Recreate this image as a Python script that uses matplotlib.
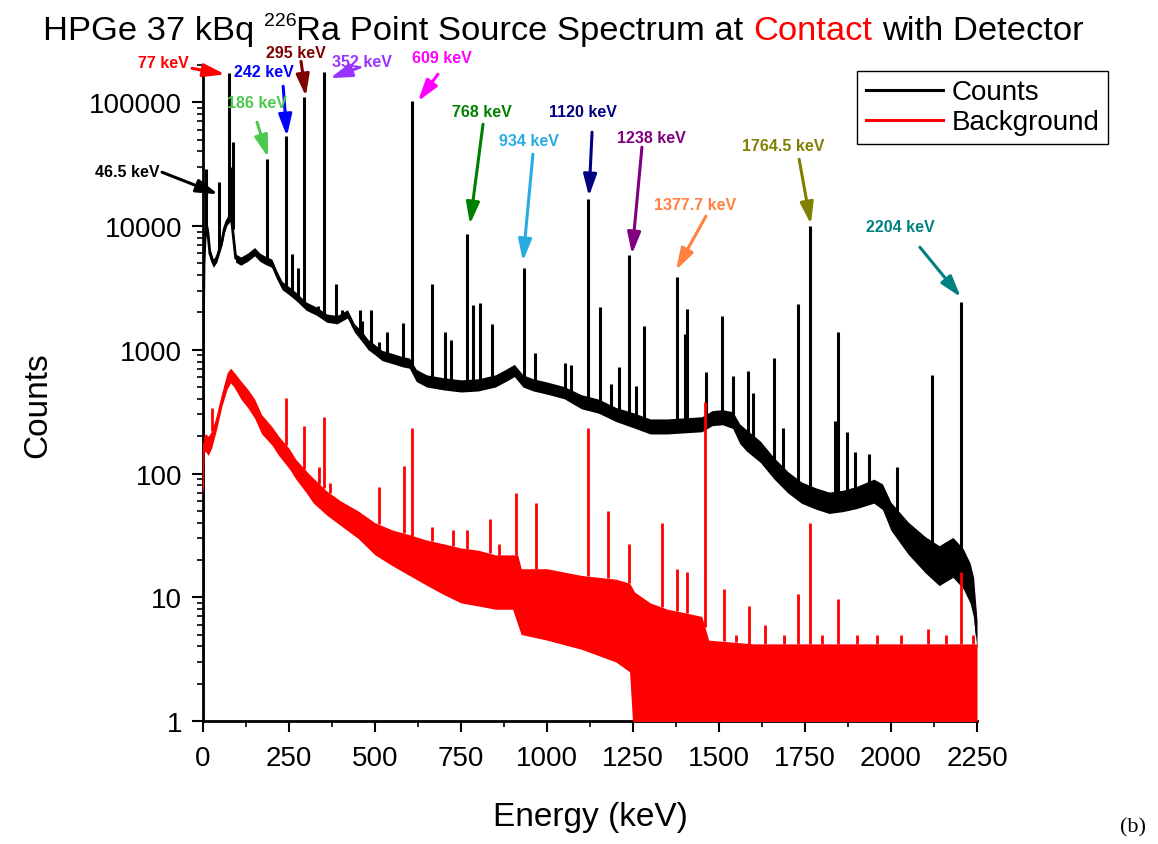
import numpy as np
import matplotlib
matplotlib.use("Agg")
import matplotlib.pyplot as plt
from matplotlib.lines import Line2D
from matplotlib.legend_handler import HandlerLine2D
from matplotlib.ticker import MultipleLocator, LogLocator, NullFormatter
from matplotlib.transforms import IdentityTransform

plt.rcParams['font.family'] = ['Liberation Sans', 'DejaVu Sans']

# ---------------- data ----------------
# Sample spectrum (black) continuum: energy (keV), counts, band half-spread factor
cont_E = [0, 1, 3, 6, 10, 14, 20, 30, 40, 55, 62, 70, 82, 95, 110, 130, 150, 165, 180,
          200, 215, 230, 250, 270, 300, 330, 360, 390, 420, 440, 460, 480, 500, 520,
          550, 580, 600, 620, 650, 700, 750, 800, 850, 880, 905, 930, 960, 1000, 1050,
          1100, 1150, 1200, 1250, 1300, 1350, 1400, 1450, 1480, 1510, 1540, 1560, 1580,
          1620, 1660, 1700, 1740, 1780, 1820, 1860, 1900, 1950, 1975, 2000, 2050, 2100,
          2140, 2180, 2210, 2230, 2240, 2250]
cont_C = [1, 1500, 5000, 8000, 10000, 9000, 6000, 5000, 5500, 7500, 9500, 11000, 12000,
          5500, 5200, 5600, 6200, 5600, 5300, 5000, 4000, 3300, 3000, 2700, 2250, 2050,
          1800, 1750, 1950, 1500, 1300, 1100, 1000, 900, 850, 800, 780, 620, 560, 530,
          510, 520, 560, 620, 680, 560, 520, 490, 450, 380, 350, 300, 270, 240, 240, 245,
          250, 280, 285, 270, 210, 185, 150, 110, 85, 70, 63, 58, 60, 64, 72, 65, 45, 30,
          22, 18, 21, 17, 13, 10, 5]
cont_spread = [1.05, 1.1, 1.1, 1.1, 1.1, 1.1, 1.1, 1.08, 1.08, 1.08, 1.08, 1.08, 1.08,
               1.08, 1.08, 1.08, 1.08, 1.08, 1.08, 1.08, 1.08, 1.08, 1.08, 1.08, 1.08,
               1.08, 1.08, 1.08, 1.08, 1.08, 1.1, 1.1, 1.1, 1.1, 1.1, 1.1, 1.1, 1.12,
               1.12, 1.12, 1.12, 1.12, 1.12, 1.12, 1.12, 1.12, 1.12, 1.12, 1.12, 1.14,
               1.14, 1.14, 1.15, 1.15, 1.15, 1.15, 1.15, 1.15, 1.15, 1.17, 1.2, 1.22,
               1.22, 1.22, 1.22, 1.22, 1.22, 1.22, 1.22, 1.23, 1.25, 1.27, 1.3, 1.35, 1.4,
               1.45, 1.45, 1.45, 1.45, 1.45, 1.3]

# Sample spectrum peaks: energy (keV), top counts
peak_E = [10, 47, 76, 84, 87, 186, 242, 259, 275, 295, 333, 352, 388, 405, 455, 462, 487,
          511, 534, 580, 609, 666, 703, 720, 768, 786, 806, 839, 934, 964, 1052, 1070,
          1120, 1155, 1185, 1208, 1238, 1258, 1281, 1378, 1401, 1408, 1463, 1509, 1540,
          1583, 1600, 1661, 1685, 1729, 1764, 1838, 1847, 1873, 1896, 1936, 2016, 2118,
          2204]
peak_C = [29000, 22500, 172000, 30000, 48000, 35000, 53000, 5900, 4600, 111000, 2250,
          175000, 3400, 2100, 2100, 1700, 2100, 1150, 1400, 1650, 102000, 3400, 1400,
          1200, 8600, 2300, 2400, 1600, 4600, 950, 780, 760, 16500, 2200, 530, 720, 5800,
          510, 1550, 3900, 1330, 2130, 660, 1870, 610, 670, 450, 850, 235, 2330, 10000,
          265, 1400, 215, 150, 143, 112, 630, 2450]

# Background spectrum (red): energy, lower and upper edge of the noisy band
bg_E = [0, 2, 8, 15, 25, 40, 55, 70, 80, 90, 110, 130, 150, 170, 200, 220, 250, 270,
        300, 320, 360, 400, 450, 500, 550, 600, 650, 700, 750, 800, 850, 900, 915, 925,
        1000, 1100, 1200, 1240, 1255, 1300, 1350, 1400, 1450, 1470, 1600, 1800, 2000,
        2200, 2250]
bg_lo = [60, 150, 150, 140, 160, 230, 350, 480, 540, 500, 400, 340, 280, 210, 170, 140,
         110, 90, 70, 58, 46, 38, 30, 22, 18, 15, 12.5, 10.5, 9, 8.5, 8, 8, 6, 5, 4.5,
         3.8, 3, 2.5, 0.5, 0.5, 0.5, 0.5, 0.5, 0.5, 0.5, 0.5, 0.5, 0.5, 0.5]
bg_hi = [90, 200, 210, 200, 220, 300, 450, 650, 710, 660, 560, 480, 400, 300, 240, 200,
         160, 130, 105, 92, 72, 60, 50, 40, 35, 32, 29, 27, 25, 24, 22, 22, 22, 17, 17,
         15, 14, 13, 11, 9, 8, 7.5, 7, 4.5, 4.2, 4.2, 4.2, 4.2, 4.2]

# Background peaks
bgpk_E = [25, 242, 295, 338, 352, 370, 511, 583, 609, 666, 727, 768, 835, 860, 911, 969,
          1120, 1177, 1238, 1335, 1378, 1408, 1460, 1515, 1550, 1588, 1634, 1690, 1730,
          1764, 1800, 1847, 1900, 1960, 2030, 2108, 2160, 2204, 2238]
bgpk_C = [340, 410, 240, 112, 285, 84, 78, 116, 235, 37, 35, 35, 43, 27, 70, 58, 235, 50,
          27, 40, 17, 16, 375, 11.6, 5, 8.5, 6, 5, 10.6, 40, 5, 9.6, 5, 5, 5, 5.5, 5, 16,
          5]

x_ticks = [0, 250, 500, 750, 1000, 1250, 1500, 1750, 2000, 2250]
y_ticks = [1, 10, 100, 1000, 10000, 100000]
y_tick_labels = ['1', '10', '100', '1000', '10000', '100000']

# annotations: label, colour, text pos (E, counts), arrow tail, arrow tip
annotations = [
    ('77 keV', '#FF0000', (-116, 210000), (-32, 188000), (64, 168000)),
    ('242 keV', '#0000FF', (177, 178000), (233, 134600), (244, 53100)),
    ('295 keV', '#800000', (270, 252000), (285, 214000), (299, 111800)),
    ('352 keV', '#9933FF', (462, 214400), (456, 191800), (369, 156300)),
    ('609 keV', '#FF00FF', (695, 230900), (683, 168300), (625, 101900)),
    ('186 keV', '#4CC94C', (157, 100000), (157, 68900), (189, 35900)),
    ('46.5 keV', '#000000', (-221, 27700), (-119, 27200), (44, 18060)),
    ('768 keV', '#008000', (811, 84600), (814, 66400), (776, 10340)),
    ('934 keV', '#29ABE2', (948, 49300), (959, 38000), (930, 5200)),
    ('1120 keV', '#000080', (1105, 84600), (1131, 57300), (1122, 17400)),
    ('1238 keV', '#800080', (1302, 52100), (1276, 43300), (1247, 5920)),
    ('1377.7 keV', '#FF8040', (1430, 15000), (1462, 12000), (1375, 4400)),
    ('1764.5 keV', '#808000', (1686, 44900), (1733, 34600), (1767, 10340)),
    ('2204 keV', '#008080', (2026, 9960), (2084, 6740), (2203, 2660)),
]


class OffsetLineHandler(HandlerLine2D):
    """Legend line that starts a bit to the right of the handle box."""
    def create_artists(self, legend, orig_handle, xdescent, ydescent, width, height,
                       fontsize, trans):
        arts = super().create_artists(legend, orig_handle, xdescent, ydescent, width,
                                      height, fontsize, trans)
        for a in arts:
            xd = np.asarray(a.get_xdata(), float)
            if len(xd) == 2:
                a.set_xdata([xd[0] + 0.22 * width, xd[1]])
        return arts


# ---------------- figure ----------------
W, H = 1158, 845
fig = plt.figure(figsize=(W / 100, H / 100), dpi=100)
ax = fig.add_axes([203 / W, (H - 722) / H, 774 / W, 656 / H])
ax.set_yscale('log')

cE = np.array(cont_E, float)
cC = np.array(cont_C, float)
cS = np.array(cont_spread, float)
ax.fill_between(cE, cC / cS, cC * cS, color='black', lw=0, zorder=2)
ax.plot(cE, cC, color='black', lw=2.0, zorder=2)
pE = np.array(peak_E, float)
ax.vlines(pE, np.interp(pE, cE, cC), peak_C, color='black', lw=2.2, zorder=2)

bE = np.array(bg_E, float)
ax.fill_between(bE, bg_lo, bg_hi, color='#FF0000', lw=0, zorder=3)
ax.plot(bE, np.sqrt(np.array(bg_lo) * np.array(bg_hi)), color='#FF0000', lw=1.5, zorder=3)
qE = np.array(bgpk_E, float)
ax.vlines(qE, np.interp(qE, bE, bg_hi), bgpk_C, color='#FF0000', lw=2.0, zorder=3)

ax.set_xlim(0, 2250)
ax.set_ylim(1, 2e5)
for s in ['top', 'right']:
    ax.spines[s].set_visible(False)
for s in ['left', 'bottom']:
    ax.spines[s].set_linewidth(2)
ax.set_xticks(x_ticks)
ax.set_xticklabels([str(t) for t in x_ticks])
ax.xaxis.set_minor_locator(MultipleLocator(125))
ax.set_yticks(y_ticks)
ax.set_yticklabels(y_tick_labels)
ax.yaxis.set_minor_locator(LogLocator(base=10, subs=np.arange(2, 10)))
ax.yaxis.set_minor_formatter(NullFormatter())
ax.tick_params(which='major', direction='out', length=8, width=1.5, labelsize=20, pad=7)
ax.tick_params(axis='x', which='major', pad=9)
ax.tick_params(which='minor', direction='out', length=4, width=1.2)

for label, col, tpos, tail, tip in annotations:
    ax.annotate('', xy=tip, xytext=tail, annotation_clip=False,
                arrowprops=dict(arrowstyle='-|>,head_length=0.65,head_width=0.2',
                                color=col, lw=2.2, shrinkA=0, shrinkB=0,
                                mutation_scale=20))
    ax.text(tpos[0], tpos[1], label, color=col, fontsize=11.5, fontweight='bold',
            ha='center', va='center', clip_on=False)

fig.text(38 / W, 1 - 405 / H, 'Counts', rotation=90, fontsize=24, ha='center', va='center')
fig.text(590 / W, 1 - 818 / H, 'Energy (keV)', fontsize=24, ha='center', va='center')
fig.text(1133 / W, 1 - 828 / H, '(b)', family='Liberation Serif', fontsize=16,
         ha='center', va='center')

handles = [Line2D([], [], color='black', lw=2.2), Line2D([], [], color='#FF0000', lw=2.2)]
leg = fig.legend(handles, ['Counts', 'Background'], loc='upper right',
                 bbox_to_anchor=(1108 / W, 1 - 72 / H), fontsize=20, frameon=True,
                 fancybox=False, edgecolor='black', framealpha=1, borderaxespad=0,
                 borderpad=0.3, labelspacing=0.15, handlelength=2.8, handletextpad=0.3,
                 handler_map={Line2D: OffsetLineHandler()})
leg.get_frame().set_linewidth(1.0)

# multi-coloured title built piece by piece (pixel coordinates)
renderer = fig.canvas.get_renderer()
title_size = 24.8
px = title_size * 100 / 72
x = 43
base_y = H - 40
pieces = [('HPGe 37 kBq', 'black', title_size, 0, px * 0.278),
          ('226', 'black', 14, 14, 0),
          ('Ra Point Source Spectrum at', 'black', title_size, 0, px * 0.278),
          ('Contact', '#FF0000', title_size, 0, px * 0.278),
          ('with Detector', 'black', title_size, 0, 0)]
for txt, col, sz, dy, gap in pieces:
    t = fig.text(x, base_y + dy, txt, color=col, fontsize=sz, ha='left', va='baseline',
                 transform=IdentityTransform())
    bb = t.get_window_extent(renderer)
    x = bb.x1 + gap

fig.savefig('out.png', dpi=100)
